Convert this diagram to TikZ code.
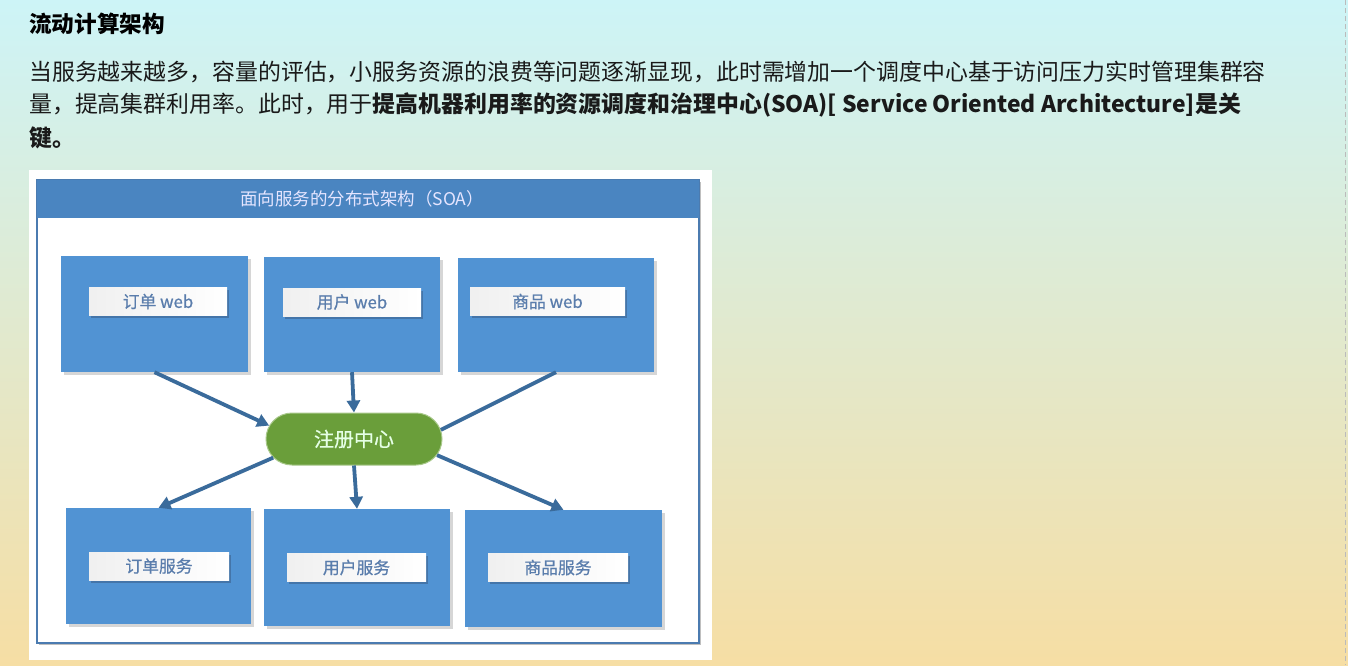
\documentclass[tikz,border=0pt]{standalone}
\usepackage{fontspec}
\setmainfont{Noto Sans CJK SC}
\newfontfamily\medfont{Noto Sans CJK SC}[FakeBold=0.7]
\usetikzlibrary{shapes.misc,shadows,arrows.meta}
\definecolor{bgtop}{HTML}{CDF4F7}
\definecolor{bgmid}{HTML}{DCEFDF}
\definecolor{bgbot}{HTML}{F6DEA4}
\definecolor{boxblue}{HTML}{5193D3}
\definecolor{barblue}{HTML}{4A85C1}
\definecolor{frameblue}{HTML}{4B7BB0}
\definecolor{arrowblue}{HTML}{3A6B9B}
\definecolor{pillgreen}{HTML}{6A9E3A}
\definecolor{pillborder}{HTML}{A8C88A}
\definecolor{labeltext}{HTML}{5A7DAC}
\definecolor{bodytext}{HTML}{1A1A1A}
\definecolor{dashgray}{HTML}{BBBBBB}
\begin{document}
\begin{tikzpicture}[x=1pt,y=-1pt,
  bodyline/.style={anchor=west,inner sep=0pt,text=bodytext,font=\fontsize{22.9}{28}\selectfont},
  bluebox/.style={rectangle,inner sep=0pt,fill=boxblue,
    drop shadow={shadow xshift=2.5pt,shadow yshift=-2.5pt,fill=black!40,opacity=0.4}},
  labelbox/.style={rectangle,inner sep=0pt,left color=black!6,right color=white,text=labeltext,
    minimum height=28pt,font=\medfont\fontsize{16.8}{19}\selectfont,
    drop shadow={shadow xshift=2pt,shadow yshift=-2.5pt,fill=frameblue!80!black,opacity=0.6}},
  pill/.style={rounded rectangle,inner sep=0pt,fill=pillgreen,draw=pillborder,line width=1pt,
    minimum width=176pt,minimum height=52pt,text=white!90!green,
    font=\medfont\fontsize{20}{22}\selectfont},
  conn/.style={draw=arrowblue,line width=3.8pt},
  connarrow/.style={conn,-{Triangle[length=12pt,width=13pt]}}
]
\useasboundingbox (0,0) rectangle (1348,665);
% background
\shade[top color=bgtop,middle color=bgmid,bottom color=bgbot] (0,0) rectangle (1348,665);
\draw[dashgray,line width=1.6pt,dash pattern=on 5pt off 3pt] (1345.5,0) -- (1345.5,665);

% texts
\node[bodyline,text=black,font=\fontsize{22.6}{26}\selectfont\bfseries] (title) at (29,24) {流动计算架构};
\node[bodyline] (l1) at (29,72) {当服务越来越多，容量的评估，小服务资源的浪费等问题逐渐显现，此时需增加一个调度中心基于访问压力实时管理集群容};
\node[bodyline] (l2) at (29,105) {量，提高集群利用率。此时，用于\textbf{提高机器利用率的资源调度和治理中心(SOA)[ Service Oriented Architecture]是关}};
\node[bodyline] (l3) at (29,138) {\textbf{键。}};

% panel
\fill[white] (29,170) rectangle (712,660);
\filldraw[fill=white,draw=frameblue,line width=1.3pt,
  drop shadow={shadow xshift=2pt,shadow yshift=-2pt,fill=black!50,opacity=0.5}] (37,180) rectangle (699,643);
\fill[barblue] (37,180) rectangle (699,218);
\node[inner sep=0pt,text=white!90!blue,font=\fontsize{17.5}{20}\selectfont] (hdr) at (362,199) {面向服务的分布式架构（SOA）};

% top boxes
\node[bluebox,minimum width=187pt,minimum height=116pt] (w1) at (154.5,314) {};
\node[bluebox,minimum width=176pt,minimum height=115pt] (w2) at (352,314.5) {};
\node[bluebox,minimum width=196pt,minimum height=114pt] (w3) at (556,315) {};
\node[labelbox,minimum width=138pt] (w1l) at (158,301.5) {订单 web};
\node[labelbox,minimum width=138pt] (w2l) at (352,302) {用户 web};
\node[labelbox,minimum width=155pt] (w3l) at (547.5,301.5) {商品 web};

% bottom boxes
\node[bluebox,minimum width=185pt,minimum height=116pt] (s1) at (158.5,566) {};
\node[bluebox,minimum width=186pt,minimum height=117pt] (s2) at (357,567.5) {};
\node[bluebox,minimum width=197pt,minimum height=117pt] (s3) at (563.5,568.5) {};
\node[labelbox,minimum width=140pt] (s1l) at (159,566) {订单服务};
\node[labelbox,minimum width=139pt] (s2l) at (356.5,567.5) {用户服务};
\node[labelbox,minimum width=140pt] (s3l) at (558,567.5) {商品服务};

% registry
\node[pill] (reg) at (354,439) {注册中心};

% connectors
\draw[connarrow] (w1.south) -- (reg.171);
\draw[connarrow] (w2.south) -- (reg.north);
\draw[conn] (w3.south) -- (reg.6);
\draw[connarrow] (reg.193) -- (s1.north);
\draw[connarrow] (reg.south) -- (s2.north);
\draw[connarrow] (reg.-11) -- (s3.north);
\end{tikzpicture}
\end{document}
